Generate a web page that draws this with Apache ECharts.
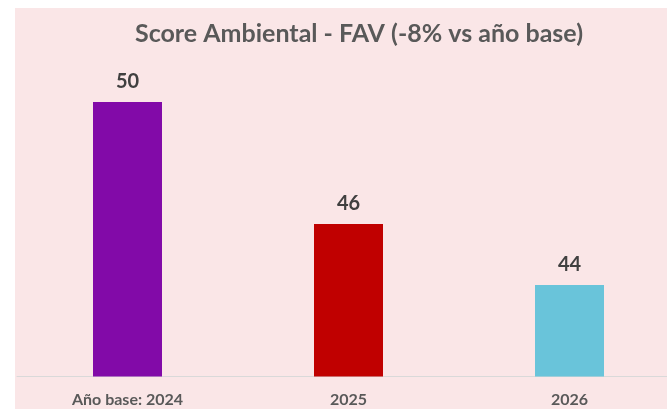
<!DOCTYPE html>
<html>
<head>
<meta charset="utf-8">
<script src="https://cdn.jsdelivr.net/npm/echarts@6/dist/echarts.min.js"></script>
<style>
  html, body { margin: 0; padding: 0; background: #fff; overflow: hidden; }
  #chart { position: absolute; left: 15px; top: 8px; width: 670px; height: 401px; background: #FAE6E7; }
</style>
</head>
<body>
<div id="chart"></div>
<script>
var categories = ['Año base: 2024', '2025', '2026'];
var scores = [50, 46, 44];
var barColors = ['#820AA8', '#C00000', '#69C4DA'];

var chart = echarts.init(document.getElementById('chart'));

var seriesData = [];
scores.forEach(function(v, i) {
	seriesData.push({
		value: v,
		itemStyle: { color: barColors[i] }
	});
});

var option = {
	backgroundColor: '#FAE6E7',
	animation: false,
	title: {
		text: 'Score Ambiental - FAV (-8% vs año base)',
		left: 339,
		top: 8,
		textAlign: 'center',
		textStyle: {
			fontFamily: 'Lato',
			fontSize: 25,
			fontWeight: 'bold',
			color: '#595959'
		}
	},
	grid: {
		left: 2,
		right: 5,
		top: 63.5,
		bottom: 32.5,
		containLabel: false
	},
	xAxis: {
		type: 'category',
		data: categories,
		axisLine: { lineStyle: { color: '#D9D9D9', width: 1 } },
		axisTick: { show: false },
		axisLabel: {
			fontFamily: 'Lato',
			fontSize: 16,
			fontWeight: 'bold',
			color: '#595959',
			margin: 15
		}
	},
	yAxis: {
		type: 'value',
		min: 41,
		max: 51,
		show: false,
		splitLine: { show: false }
	},
	series: [{
		type: 'bar',
		data: seriesData,
		barWidth: 69,
		label: {
			show: true,
			position: 'top',
			distance: 10,
			fontFamily: 'Lato',
			fontSize: 20,
			fontWeight: 'bold',
			color: '#404040'
		}
	}]
};
chart.setOption(option);
</script>
</body>
</html>
